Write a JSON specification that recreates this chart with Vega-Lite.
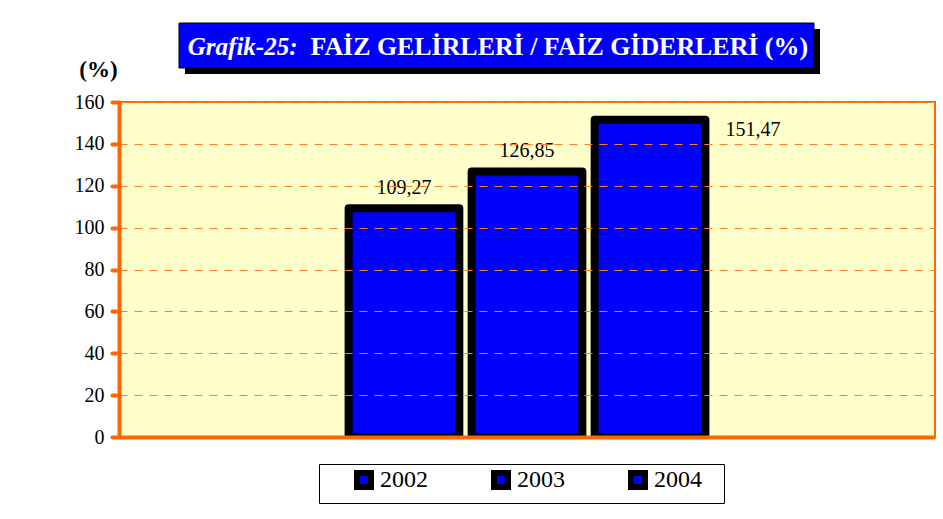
{
  "$schema": "https://vega.github.io/schema/vega-lite/v6.json",
  "background": "white",
  "padding": {"left": 73, "top": 22, "right": 5, "bottom": 5},
  "spacing": 34,
  "bounds": "flush",
  "center": false,
  "config": {
    "font": "Liberation Serif",
    "view": {"stroke": null},
    "locale": {"number": {"decimal": ",", "thousands": ".", "grouping": [3], "currency": ["", " TL"]}}
  },
  "vconcat": [
    {
      "width": 635,
      "height": 45,
      "data": {"values": [{"prefix": "Grafik-25:", "title": "FAİZ GELİRLERİ / FAİZ GİDERLERİ (%)"}]},
      "encoding": {
        "x": {"datum": 0, "type": "quantitative", "scale": {"domain": [0, 1]}, "axis": null},
        "y": {"datum": 0, "type": "quantitative", "scale": {"domain": [0, 1]}, "axis": null}
      },
      "layer": [
        {
          "mark": {"type": "rect", "fill": "black", "xOffset": 66, "x2Offset": 66, "yOffset": 6, "y2Offset": 6},
          "encoding": {"x2": {"datum": 1}, "y2": {"datum": 1}}
        },
        {
          "mark": {"type": "rect", "fill": "#0000FF", "stroke": "black", "strokeWidth": 1, "xOffset": 60, "x2Offset": 60},
          "encoding": {"x2": {"datum": 1}, "y2": {"datum": 1}}
        },
        {
          "mark": {"type": "text", "align": "right", "baseline": "middle", "dx": -139, "dy": 1, "font": "Liberation Serif", "fontSize": 25, "fontStyle": "italic", "fontWeight": "bold", "color": "white"},
          "encoding": {"x": {"datum": 0.5, "type": "quantitative"}, "y": {"datum": 0.5, "type": "quantitative"}, "text": {"field": "prefix"}}
        },
        {
          "mark": {"type": "text", "align": "left", "baseline": "middle", "dx": -126, "dy": 1, "font": "Liberation Serif", "fontSize": 25.9, "fontWeight": "bold", "color": "white"},
          "encoding": {"x": {"datum": 0.5, "type": "quantitative"}, "y": {"datum": 0.5, "type": "quantitative"}, "text": {"field": "title"}}
        }
      ]
    },
    {
      "width": 816,
      "height": 335,
      "view": {"fill": "#FFFFCC", "stroke": "#FF6600", "strokeWidth": 2},
      "data": {"values": [
        {"year": "2002", "value": 109.27},
        {"year": "2003", "value": 126.85},
        {"year": "2004", "value": 151.47}
      ]},
      "encoding": {
        "x": {
          "datum": "Faiz Gelirleri / Faiz Giderleri", "type": "nominal",
          "scale": {"paddingInner": 0, "paddingOuter": 0.6055},
          "axis": {"labels": false, "ticks": false, "title": null, "grid": false, "domainColor": "#FF6600", "domainWidth": 4, "zindex": 2}
        },
        "xOffset": {
          "field": "year", "type": "nominal",
          "scale": {"paddingInner": 0.1, "paddingOuter": 0.05}
        },
        "y": {
          "field": "value", "type": "quantitative",
          "scale": {"domain": [0, 160], "nice": false},
          "axis": {
            "values": [0, 20, 40, 60, 80, 100, 120, 140, 160],
            "domainColor": "#FF6600", "domainWidth": 4,
            "tickColor": "#FF6600", "tickWidth": 4, "tickSize": 7, "tickCap": "round",
            "gridColor": "#FF7F27", "gridDash": [8, 7], "gridWidth": 1,
            "labelFont": "Liberation Serif", "labelFontSize": 20, "labelColor": "black", "labelPadding": 8,
            "title": "(%)", "titleAngle": 0, "titleAlign": "center", "titleBaseline": "middle",
            "titleX": -21, "titleY": -33, "titleFont": "Liberation Serif", "titleFontSize": 23, "titleFontWeight": "bold", "titleColor": "black",
            "zindex": 1
          }
        }
      },
      "layer": [
        {
          "mark": {"type": "bar", "stroke": "black", "strokeWidth": 8, "strokeJoin": "round", "clip": true},
          "encoding": {
            "color": {
              "field": "year", "type": "nominal",
              "scale": {"range": ["#0000FF", "#0000FF", "#0000FF"]},
              "legend": {
                "title": " ", "titleOrient": "right", "titlePadding": 18, "titleFontSize": 24, "titleFont": "Liberation Serif",
                "orient": "none", "direction": "horizontal",
                "legendX": 200, "legendY": 441,
                "strokeColor": "black", "fillColor": "white", "padding": 4,
                "symbolType": "square", "symbolSize": 196, "symbolStrokeColor": "black", "symbolStrokeWidth": 6,
                "symbolOpacity": 1, "symbolOffset": 29,
                "labelFont": "Liberation Serif", "labelFontSize": 24, "labelColor": "black", "labelOffset": 4,
                "columnPadding": 32
              }
            }
          }
        },
        {
          "transform": [{"filter": "datum.year != '2004'"}],
          "mark": {"type": "text", "baseline": "bottom", "dy": -10, "fontSize": 20, "color": "black"},
          "encoding": {"text": {"field": "value", "type": "quantitative", "format": ".2f"}}
        },
        {
          "transform": [{"filter": "datum.year == '2004'"}],
          "mark": {"type": "text", "align": "center", "baseline": "middle", "dx": 103, "dy": 10, "fontSize": 20, "color": "black"},
          "encoding": {"text": {"field": "value", "type": "quantitative", "format": ".2f"}}
        }
      ]
    }
  ]
}
